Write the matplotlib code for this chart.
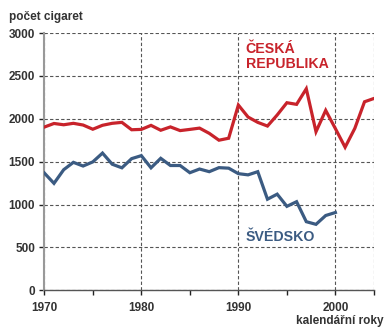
import matplotlib
matplotlib.use("Agg")
import matplotlib.pyplot as plt

years_cz = list(range(1970, 2005))
cz = [1903, 1945, 1930, 1947, 1927, 1878, 1924, 1947, 1958, 1872,
      1876, 1923, 1866, 1905, 1862, 1876, 1891, 1830, 1750, 1773,
      2160, 2020, 1958, 1915, 2044, 2187, 2168, 2350, 1849, 2098,
      1885, 1668, 1888, 2198, 2238]
years_se = list(range(1970, 2001))
se = [1368, 1247, 1406, 1492, 1449, 1497, 1600, 1470, 1428, 1535,
      1570, 1428, 1539, 1455, 1455, 1371, 1414, 1383, 1430, 1424,
      1360, 1346, 1383, 1062, 1121, 979, 1033, 800, 769, 872, 907]

xticks = [1970, 1980, 1990, 2000]
yticks = [0, 500, 1000, 1500, 2000, 2500, 3000]

RED = "#C8232B"
BLUE = "#3B5B82"
TXT = "#333333"

plt.rcParams['font.family'] = ['Liberation Sans', 'DejaVu Sans']

fig = plt.figure(figsize=(3.85, 3.3), dpi=100)
ax = fig.add_axes([0.115, 0.1203, 0.857, 0.7797])

ax.plot(years_cz, cz, color=RED, lw=2.3, solid_joinstyle='miter', zorder=3)
ax.plot(years_se, se, color=BLUE, lw=2.3, solid_joinstyle='miter', zorder=3)

ax.set_xlim(1970, 2004)
ax.set_ylim(0, 3000)
ax.set_xticks(xticks)
ax.set_xticks([1975, 1985, 1995, 2004], minor=True)
ax.set_yticks(yticks)
ax.set_xticklabels([str(x) for x in xticks], fontsize=8.5, fontweight='bold', color=TXT)
ax.set_yticklabels([str(y) for y in yticks], fontsize=8.5, fontweight='bold', color=TXT)

ax.grid(True, which='major', linestyle=(0, (3, 2)), color='#555555', lw=0.8)
ax.axvline(2004, linestyle=(0, (3, 2)), color='#555555', lw=0.8)
ax.set_axisbelow(True)

for s in ['top', 'right']:
    ax.spines[s].set_visible(False)
ax.spines['left'].set_color('#999999')
ax.spines['left'].set_linewidth(1.5)
ax.spines['bottom'].set_color('#555555')
ax.spines['bottom'].set_linewidth(1.0)

ax.tick_params(axis='y', which='major', length=3.5, width=1, color='#222222', pad=3)
ax.tick_params(axis='x', which='major', length=3.5, width=1, color='#222222', pad=5)
ax.tick_params(axis='x', which='minor', length=3.5, width=1, color='#222222')

ax.text(1990.75, 2726, "ČESKÁ\nREPUBLIKA", color=RED, fontsize=10.2,
        fontweight='bold', ha='left', va='center', linespacing=1.1)
ax.text(1990.75, 616, "ŠVÉDSKO", color=BLUE, fontsize=10.2,
        fontweight='bold', ha='left', va='center')

fig.text(9/385, 1 - 17/330, "počet cigaret", fontsize=8.5, fontweight='bold',
         color=TXT, ha='left', va='center')
fig.text(383.5/385, 1 - 321/330, "kalendářní roky", fontsize=8.5, fontweight='bold',
         color=TXT, ha='right', va='center')

fig.savefig("out.png", dpi=100)
